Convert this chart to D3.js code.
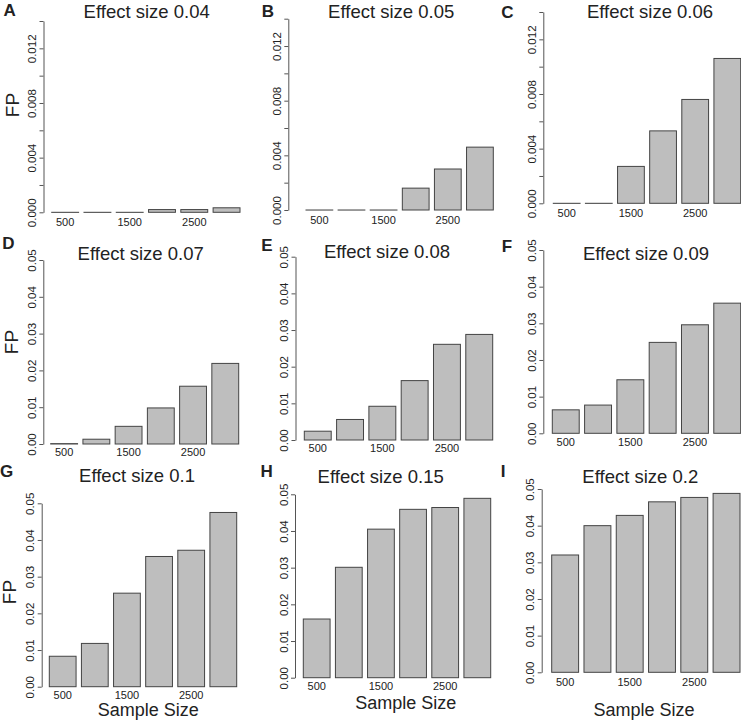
<!DOCTYPE html>
<html>
<head>
<meta charset="utf-8">
<script src="https://cdn.jsdelivr.net/npm/d3@7"></script>
<style>
  html, body { margin: 0; padding: 0; background: #fff; }
  svg { display: block; }
  text { font-family: "Liberation Sans", Arial, Helvetica, sans-serif; fill: #222; }
</style>
</head>
<body>
<svg id="chart" width="741" height="723"></svg>
<script>
// ---------------- DATA ----------------
const sampleSizes = [500, 1000, 1500, 2000, 2500, 3000];
const xTickLabels = ["500", "", "1500", "", "2500", ""];

const panelLetters = ["A", "B", "C", "D", "E", "F", "G", "H", "I"];
const effectSizes = ["0.04", "0.05", "0.06", "0.07", "0.08", "0.09", "0.1", "0.15", "0.2"];

const fpA = [0, 0, 0, 0.0002, 0.0002, 0.00033];
const fpB = [0, 0, 0, 0.0016, 0.0030, 0.0046];
const fpC = [0, 0, 0.0027, 0.0053, 0.0076, 0.0106];
const fpD = [0.0001, 0.0013, 0.0048, 0.0098, 0.0157, 0.0219];
const fpE = [0.0024, 0.0056, 0.0092, 0.0162, 0.0261, 0.0288];
const fpF = [0.0064, 0.0077, 0.0146, 0.0248, 0.0296, 0.0355];
const fpG = [0.0083, 0.0118, 0.0255, 0.0355, 0.0372, 0.0475];
const fpH = [0.0160, 0.0301, 0.0405, 0.0459, 0.0464, 0.0489];
const fpI = [0.0320, 0.0400, 0.0428, 0.0465, 0.0477, 0.0488];

const yTicksSmall = [0, 0.002, 0.004, 0.006, 0.008, 0.010, 0.012, 0.014];
const yTickLabelsSmall = ["0.000", "", "0.004", "", "0.008", "", "0.012", ""];
const yTicksLarge = [0, 0.01, 0.02, 0.03, 0.04, 0.05];
const yTickLabelsLarge = ["0.00", "0.01", "0.02", "0.03", "0.04", "0.05"];

const yAxisTitle = "FP";
const xAxisTitle = "Sample Size";

// ---------------- LAYOUT (positions only) ----------------
const series = [fpA, fpB, fpC, fpD, fpE, fpF, fpG, fpH, fpI];
const layout = [
  { ax: 43.5, y0: 212.3, yTop: 21.0,  b0: 51.7,  b1: 240.0, tx: 146.7, ty: 11,  lx: 9.7,   ly: 10.5,  xl: 222,   fp: [12, 105], small: true },
  { ax: 288.3, y0: 210.0, yTop: 18.7, b0: 306.0, b1: 493.3, tx: 391.2, ty: 11,  lx: 268,   ly: 11,    xl: 220,   small: true },
  { ax: 543.3, y0: 203.3, yTop: 12.0, b0: 553.3, b1: 740.7, tx: 650,   ty: 11,  lx: 507.5, ly: 12,    xl: 213.3, small: true },
  { ax: 43.3, y0: 444.0, yTop: 260.0, b0: 50.7,  b1: 238.7, tx: 140.7, ty: 253, lx: 8.3,   ly: 243.7, xl: 451.7, fp: [11, 342] },
  { ax: 295.5, y0: 440.0, yTop: 256.7, b0: 304.3, b1: 492.7, tx: 387,  ty: 251, lx: 267,   ly: 245,   xl: 448.3 },
  { ax: 543.3, y0: 433.3, yTop: 250.0, b0: 552.3, b1: 740.7, tx: 646,  ty: 253, lx: 507,   ly: 246,   xl: 441.7 },
  { ax: 41.7, y0: 686.7, yTop: 503.3, b0: 49.3,  b1: 236.7, tx: 137,   ty: 475, lx: 6.5,   ly: 471.7, xl: 695,   fp: [9, 592],   st: [148.3, 710] },
  { ax: 295.0, y0: 677.7, yTop: 494.3, b0: 303.3, b1: 490.7, tx: 380.7, ty: 476, lx: 266.7, ly: 471.7, xl: 685.8, st: [405.7, 703] },
  { ax: 541.7, y0: 672.3, yTop: 489.0, b0: 551.7, b1: 740.0, tx: 640.3, ty: 476, lx: 503,   ly: 471.7, xl: 681.7, st: [644, 710] }
];

const svg = d3.select("#chart");
const barFill = "#bebebe";
const barStroke = "#444";
const axisColor = "#555";

series.forEach((vals, i) => {
  const L = layout[i];
  const ticks = L.small ? yTicksSmall : yTicksLarge;
  const tickLabels = L.small ? yTickLabelsSmall : yTickLabelsLarge;
  const yMax = ticks[ticks.length - 1];

  const y = d3.scaleLinear().domain([0, yMax]).range([L.y0, L.yTop]);
  const x = d3.scaleBand().domain(sampleSizes).range([L.b0, L.b1])
    .paddingInner(0.2 / 1.2).paddingOuter(0);

  const g = svg.append("g");

  // bars (zero-height bars still show their outline as a thin line, as in R)
  g.selectAll("rect.bar").data(vals).enter().append("rect")
    .attr("class", "bar")
    .attr("x", (d, j) => x(sampleSizes[j]))
    .attr("width", x.bandwidth())
    .attr("y", d => y(d))
    .attr("height", d => Math.max(0.05, y(0) - y(d)))
    .attr("fill", barFill)
    .attr("stroke", barStroke)
    .attr("stroke-width", 1);

  // y axis
  const yAxis = d3.axisLeft(y).tickValues(ticks).tickSize(4).tickSizeOuter(0)
    .tickFormat((d, j) => tickLabels[j]);
  const ya = g.append("g").attr("transform", `translate(${L.ax},0)`).call(yAxis);
  ya.select(".domain").attr("stroke", axisColor);
  ya.selectAll(".tick line").attr("stroke", axisColor);
  ya.selectAll(".tick text")
    .attr("transform", "rotate(-90)")
    .attr("x", 0).attr("y", -11.5).attr("dy", null)
    .attr("text-anchor", "middle")
    .attr("dominant-baseline", "central")
    .style("font-family", "'Liberation Sans', Arial, sans-serif")
    .style("font-size", "11.5px")
    .attr("fill", "#333");

  // x axis labels (no line)
  const xAxis = d3.axisBottom(x).tickSize(0).tickPadding(0)
    .tickFormat((d, j) => xTickLabels[j]);
  const xa = g.append("g").attr("transform", `translate(0,${L.xl})`).call(xAxis);
  xa.select(".domain").remove();
  xa.selectAll(".tick text")
    .attr("y", 0).attr("dy", null)
    .attr("dominant-baseline", "central")
    .style("font-family", "'Liberation Sans', Arial, sans-serif")
    .style("font-size", "11px")
    .attr("fill", "#333");

  // title
  g.append("text")
    .attr("x", L.tx).attr("y", L.ty)
    .attr("text-anchor", "middle")
    .attr("dominant-baseline", "central")
    .style("font-size", "18.5px")
    .text("Effect size " + effectSizes[i]);

  // panel letter
  g.append("text")
    .attr("x", L.lx).attr("y", L.ly)
    .attr("text-anchor", "middle")
    .attr("dominant-baseline", "central")
    .style("font-size", "17px")
    .style("font-weight", "bold")
    .attr("fill", "#111")
    .text(panelLetters[i]);

  if (L.fp) {
    g.append("text")
      .attr("transform", `translate(${L.fp[0]},${L.fp[1]}) rotate(-90)`)
      .attr("text-anchor", "middle")
      .attr("dominant-baseline", "central")
      .style("font-size", "19px")
      .text(yAxisTitle);
  }
  if (L.st) {
    g.append("text")
      .attr("x", L.st[0]).attr("y", L.st[1])
      .attr("text-anchor", "middle")
      .attr("dominant-baseline", "central")
      .style("font-size", "18px")
      .text(xAxisTitle);
  }
});
</script>
</body>
</html>
